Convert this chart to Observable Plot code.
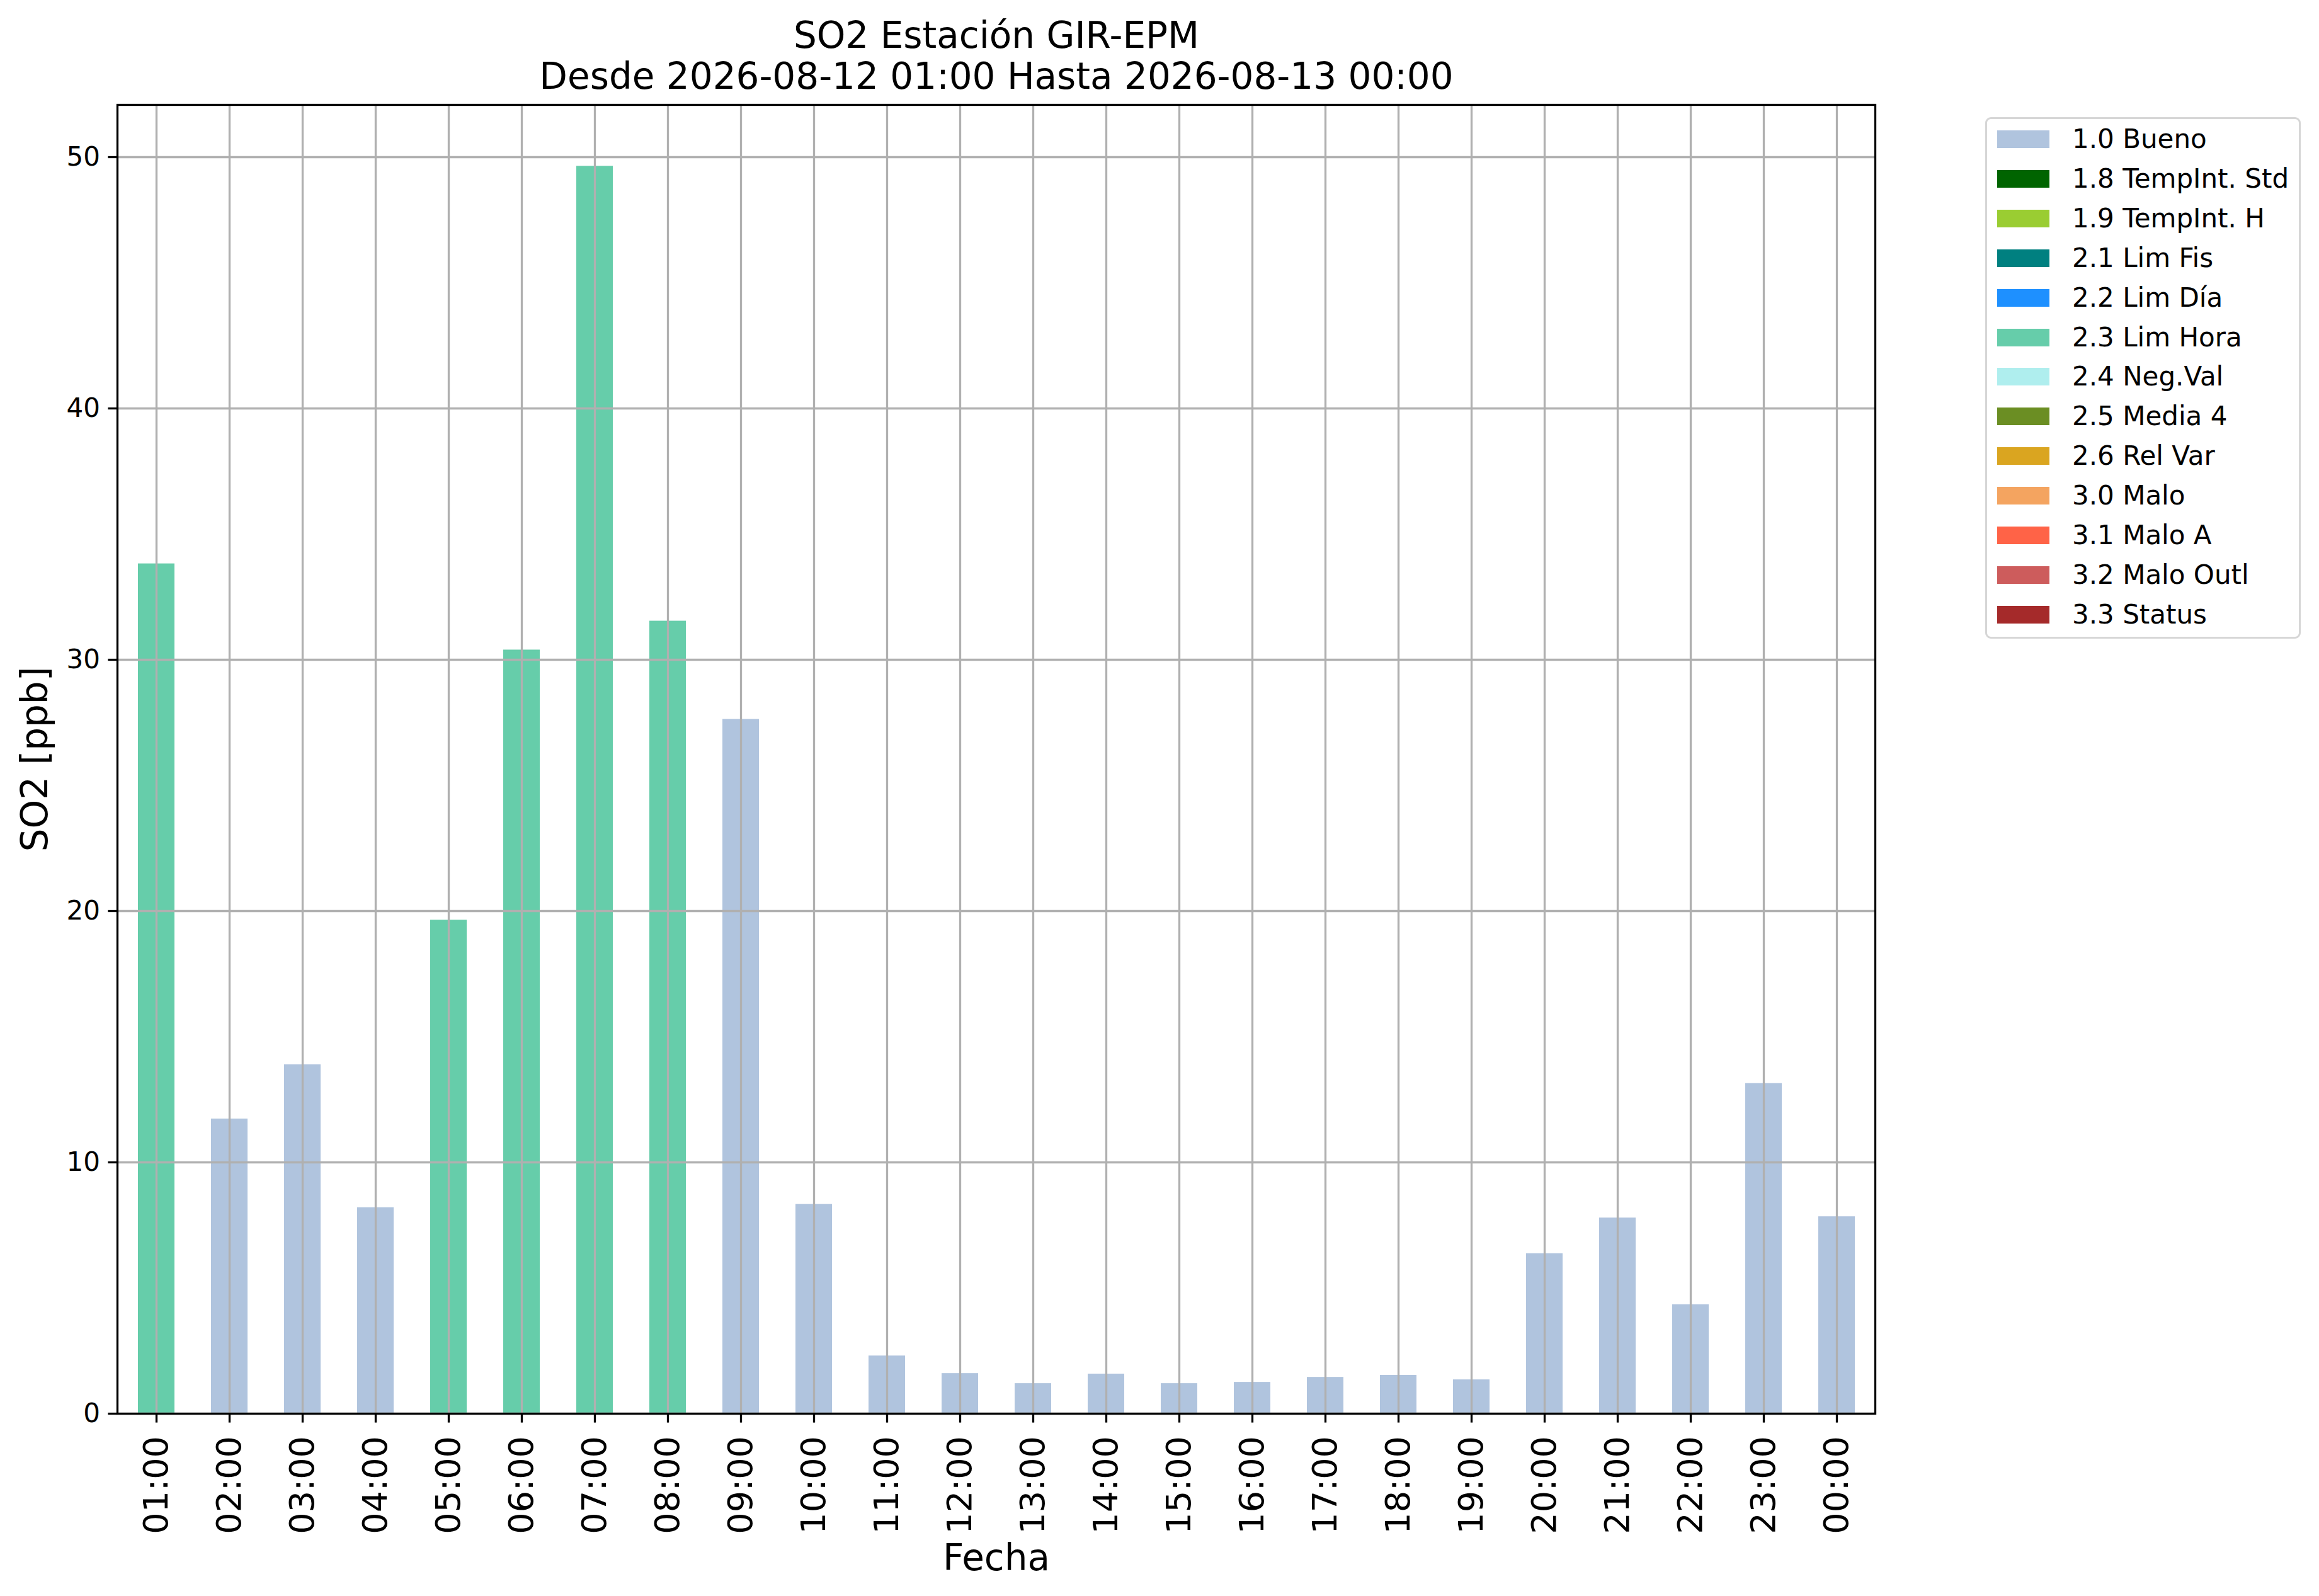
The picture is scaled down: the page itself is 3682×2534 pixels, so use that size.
<!DOCTYPE html>
<html>
<head>
<meta charset="utf-8">
<script src="https://cdn.jsdelivr.net/npm/d3@7"></script>
<script src="https://cdn.jsdelivr.net/npm/@observablehq/plot@0.6"></script>
<style>
html, body { margin: 0; padding: 0; background: #fff; }
#wrap { position: relative; width: 3682px; height: 2534px; font-family: "DejaVu Sans", sans-serif; background: #fff; overflow: hidden; }
#legend { position: absolute; left: 3152px; top: 186px; width: 495px; height: 822px; border: 3px solid #d6d6d6; border-radius: 9px; background: #fff; }
.patch { position: absolute; left: 16px; width: 83px; height: 28px; }
.lab { position: absolute; left: 135px; height: 50px; line-height: 50px; font-size: 42px; color: #000; white-space: nowrap; }
</style>
</head>
<body>
<div id="wrap"></div>
<script>
// ---- data ----
const hours = ["01:00","02:00","03:00","04:00","05:00","06:00","07:00","08:00","09:00","10:00","11:00","12:00",
               "13:00","14:00","15:00","16:00","17:00","18:00","19:00","20:00","21:00","22:00","23:00","00:00"];
const values = [33.82, 11.73, 13.89, 8.2, 19.64, 30.39, 49.64, 31.54, 27.63, 8.33, 2.3, 1.6,
                1.2, 1.58, 1.2, 1.25, 1.45, 1.53, 1.35, 6.37, 7.79, 4.34, 13.14, 7.84];
const flags = ["2.3 Lim Hora","1.0 Bueno","1.0 Bueno","1.0 Bueno","2.3 Lim Hora","2.3 Lim Hora","2.3 Lim Hora","2.3 Lim Hora",
               "1.0 Bueno","1.0 Bueno","1.0 Bueno","1.0 Bueno","1.0 Bueno","1.0 Bueno","1.0 Bueno","1.0 Bueno",
               "1.0 Bueno","1.0 Bueno","1.0 Bueno","1.0 Bueno","1.0 Bueno","1.0 Bueno","1.0 Bueno","1.0 Bueno"];
const flagLabels = ["1.0 Bueno","1.8 TempInt. Std","1.9 TempInt. H","2.1 Lim Fis","2.2 Lim Día","2.3 Lim Hora",
                    "2.4 Neg.Val","2.5 Media 4","2.6 Rel Var","3.0 Malo","3.1 Malo A","3.2 Malo Outl","3.3 Status"];
const flagColors = ["#b0c4de","#006400","#9acd32","#008080","#1e90ff","#66cdaa",
                    "#afeeee","#6b8e23","#daa520","#f4a460","#ff6347","#cd5c5c","#a52a2a"];
const yTicks = [0, 10, 20, 30, 40, 50];
const titleLines = ["SO2 Estación GIR-EPM", "Desde 2026-08-12 01:00 Hasta 2026-08-13 00:00"];
const xLabel = "Fecha";
const yLabel = "SO2 [ppb]";

const data = hours.map((h, i) => ({hour: h, value: values[i], flag: flags[i]}));

const gridColor = "#b0b0b0";
const lw = 3.3;

const chart = Plot.plot({
  width: 3682,
  height: 2534,
  marginLeft: 186,
  marginRight: 705,
  marginTop: 166,
  marginBottom: 290,
  style: {fontFamily: "DejaVu Sans", background: "white", color: "black", overflow: "visible"},
  x: {type: "band", domain: hours, paddingInner: 0.5, paddingOuter: 0.25, label: null},
  y: {domain: [0, 52.08], label: null},
  color: {domain: flagLabels, range: flagColors},
  marks: [
    Plot.barY(data, {x: "hour", y: "value", fill: "flag"}),
    Plot.gridX({stroke: gridColor, strokeOpacity: 1, strokeWidth: lw}),
    Plot.gridY({ticks: yTicks, stroke: gridColor, strokeOpacity: 1, strokeWidth: lw}),
    Plot.frame({stroke: "black", strokeWidth: lw}),
    Plot.axisY({ticks: yTicks, tickSize: 14.6, tickPadding: 13, fontSize: 42, strokeWidth: lw, label: null}),
    Plot.axisX({tickSize: 14.6, tickPadding: 21, fontSize: 54, tickRotate: -90, strokeWidth: lw, label: null}),
    Plot.text([titleLines[0]], {text: d => d, frameAnchor: "top", dy: -91, lineAnchor: "bottom", fontSize: 58}),
    Plot.text([titleLines[1]], {text: d => d, frameAnchor: "top", dy: -26, lineAnchor: "bottom", fontSize: 58}),
    Plot.text([xLabel], {text: d => d, frameAnchor: "bottom", dy: 248, lineAnchor: "bottom", fontSize: 58}),
    Plot.text([yLabel], {text: d => d, frameAnchor: "left", dx: -130, rotate: -90, textAnchor: "middle", lineAnchor: "middle", fontSize: 58})
  ]
});

const wrap = document.getElementById("wrap");
wrap.appendChild(chart);

// legend
const legend = document.createElement("div");
legend.id = "legend";
const inner0 = 189; // top of legend content (border top + border width)
flagLabels.forEach((lab, i) => {
  const cy = 221.3 + i * 62.85 - inner0;
  const p = document.createElement("div");
  p.className = "patch";
  p.style.top = (cy - 14) + "px";
  p.style.background = flagColors[i];
  legend.appendChild(p);
  const t = document.createElement("div");
  t.className = "lab";
  t.style.top = (cy - 25) + "px";
  t.textContent = lab;
  legend.appendChild(t);
});
wrap.appendChild(legend);
</script>
</body>
</html>
